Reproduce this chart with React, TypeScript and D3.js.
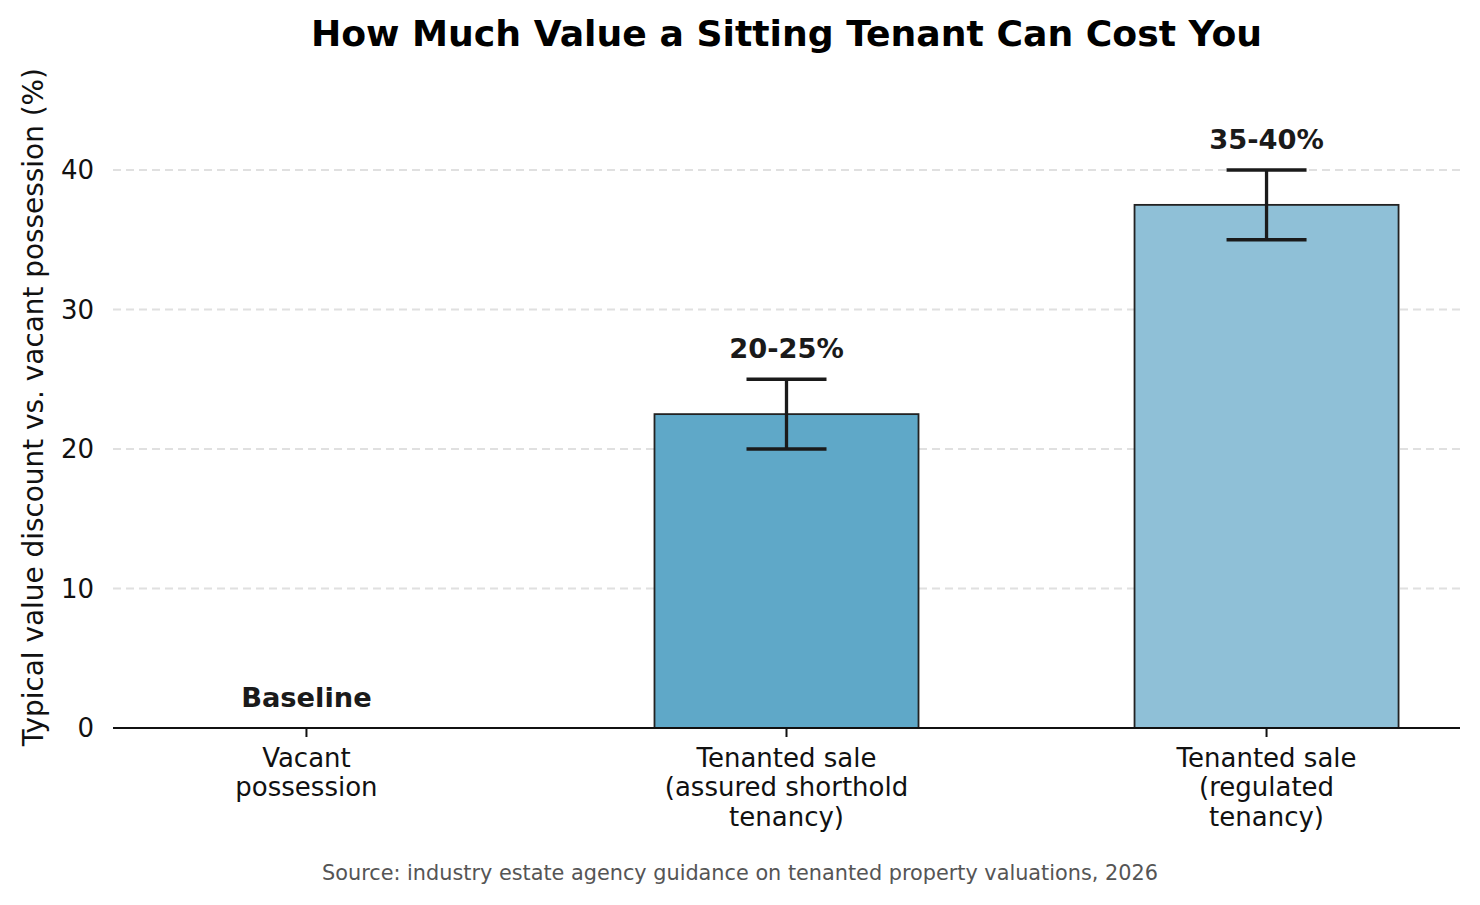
import React from "react";
import * as d3 from "d3";

const categories: string[][] = [
  ["Vacant", "possession"],
  ["Tenanted sale", "(assured shorthold", "tenancy)"],
  ["Tenanted sale", "(regulated", "tenancy)"],
];
const values: number[] = [0, 22.5, 37.5];
const lows: number[] = [0, 20, 35];
const highs: number[] = [0, 25, 40];
const barLabels: string[] = ["Baseline", "20-25%", "35-40%"];
const showErr: boolean[] = [false, true, true];
const barColors: string[] = ["#d9d9d9", "#5fa8c8", "#8fc0d7"];
const yTicks: number[] = [0, 10, 20, 30, 40];
const yMax = 46;

const W = 1480;
const H = 905;
const FONT = "'DejaVu Sans', 'Noto Sans', sans-serif";

export default function App() {
  const left = 113;
  const right = 1460;
  const top = 86.3;
  const bottom = 728;

  const x = d3
    .scaleBand<number>()
    .domain(values.map((_, i) => i))
    .range([left, right])
    .paddingInner(0.45)
    .paddingOuter(0.128);
  const y = d3.scaleLinear().domain([0, yMax]).range([bottom, top]);
  const bw = x.bandwidth();
  const capHalf = 40;

  return (
    <svg
      width={W}
      height={H}
      viewBox={`0 0 ${W} ${H}`}
      style={{ position: "absolute", left: 0, top: 0, background: "#fff" }}
      fontFamily={FONT}
    >
      <rect x={0} y={0} width={W} height={H} fill="#fff" />
      {/* grid */}
      {yTicks
        .filter((t) => t > 0)
        .map((t) => (
          <line
            key={"g" + t}
            x1={left}
            x2={right}
            y1={y(t)}
            y2={y(t)}
            stroke="#e0e0e0"
            strokeWidth={2}
            strokeDasharray="8,5"
          />
        ))}
      {/* y tick labels */}
      {yTicks.map((t) => (
        <text
          key={"yt" + t}
          x={94}
          y={y(t)}
          textAnchor="end"
          dominantBaseline="central"
          fontSize={26}
          fill="#111"
        >
          {t}
        </text>
      ))}
      {/* bars */}
      {values.map((v, i) => {
        const bx = x(i) as number;
        return (
          <rect
            key={"b" + i}
            x={bx}
            y={y(v)}
            width={bw}
            height={Math.max(0, y(0) - y(v))}
            fill={barColors[i]}
            stroke="#222"
            strokeWidth={1.8}
          />
        );
      })}
      {/* x axis */}
      <line x1={left} x2={right} y1={bottom} y2={bottom} stroke="#111" strokeWidth={2} />
      {values.map((_, i) => {
        const cx = (x(i) as number) + bw / 2;
        return (
          <g key={"xt" + i}>
            <line x1={cx} x2={cx} y1={bottom} y2={bottom + 9} stroke="#111" strokeWidth={2} />
            <text textAnchor="middle" fontSize={26} fill="#111">
              {categories[i].map((ln, j) => (
                <tspan key={j} x={cx} y={766.5 + j * 29.5}>
                  {ln}
                </tspan>
              ))}
            </text>
          </g>
        );
      })}
      {/* error bars */}
      {values.map((_, i) => {
        if (!showErr[i]) return null;
        const cx = (x(i) as number) + bw / 2;
        return (
          <g key={"e" + i} stroke="#1a1a1a" strokeWidth={3.3}>
            <line x1={cx} x2={cx} y1={y(lows[i])} y2={y(highs[i])} />
            <line x1={cx - capHalf} x2={cx + capHalf} y1={y(lows[i])} y2={y(lows[i])} />
            <line x1={cx - capHalf} x2={cx + capHalf} y1={y(highs[i])} y2={y(highs[i])} />
          </g>
        );
      })}
      {/* value labels */}
      {values.map((_, i) => {
        const cx = (x(i) as number) + bw / 2;
        return (
          <text
            key={"l" + i}
            x={cx}
            y={y(highs[i]) - 21}
            textAnchor="middle"
            fontSize={27.3}
            fontWeight="bold"
            fill="#1a1a1a"
          >
            {barLabels[i]}
          </text>
        );
      })}
      {/* y label */}
      <text
        transform={`translate(33, ${(top + bottom) / 2}) rotate(-90)`}
        textAnchor="middle"
        dominantBaseline="central"
        fontSize={27.9}
        fill="#111"
      >
        Typical value discount vs. vacant possession (%)
      </text>
      {/* title */}
      <text
        x={(left + right) / 2}
        y={46}
        textAnchor="middle"
        fontSize={36.2}
        fontWeight="bold"
        fill="#000"
      >
        How Much Value a Sitting Tenant Can Cost You
      </text>
      {/* source */}
      <text x={W / 2} y={880} textAnchor="middle" fontSize={20.8} fill="#555">
        Source: industry estate agency guidance on tenanted property valuations, 2026
      </text>
    </svg>
  );
}
